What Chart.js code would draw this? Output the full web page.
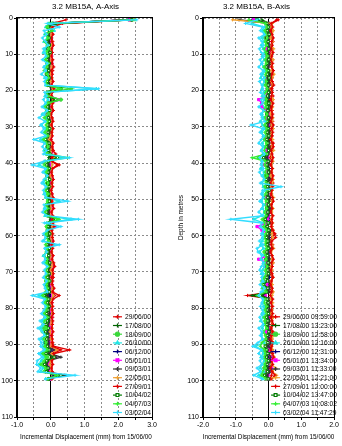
<!DOCTYPE html>
<html>
<head>
<meta charset="utf-8">
<script src="https://cdn.jsdelivr.net/npm/chart.js@4.4.0/dist/chart.umd.min.js"></script>
<style>
  body { margin: 0; background: #fff; }
  .panel { position: absolute; top: 0; width: 171px; height: 446px; }
</style>
</head>
<body>
<div class="panel" style="left:0"><canvas id="chartA" width="171" height="446"></canvas></div>
<div class="panel" style="left:171px"><canvas id="chartB" width="171" height="446"></canvas></div>
<script>
// depth of each reading (m)
const depths = [
  0.5, 1.5, 2.5, 3.5, 4.5, 5.5, 6.5, 7.5, 8.5, 9.5,
  10.5, 11.5, 12.5, 13.5, 14.5, 15.5, 16.5, 17.5, 18.5, 19.5,
  20.5, 21.5, 22.5, 23.5, 24.5, 25.5, 26.5, 27.5, 28.5, 29.5,
  30.5, 31.5, 32.5, 33.5, 34.5, 35.5, 36.5, 37.5, 38.5, 39.5,
  40.5, 41.5, 42.5, 43.5, 44.5, 45.5, 46.5, 47.5, 48.5, 49.5,
  50.5, 51.5, 52.5, 53.5, 54.5, 55.5, 56.5, 57.5, 58.5, 59.5,
  60.5, 61.5, 62.5, 63.5, 64.5, 65.5, 66.5, 67.5, 68.5, 69.5,
  70.5, 71.5, 72.5, 73.5, 74.5, 75.5, 76.5, 77.5, 78.5, 79.5,
  80.5, 81.5, 82.5, 83.5, 84.5, 85.5, 86.5, 87.5, 88.5, 89.5,
  90.5, 91.5, 92.5, 93.5, 94.5, 95.5, 96.5, 97.5, 98.5, 99.5
];

const readDates = ['29/06/00', '17/08/00', '18/09/00', '26/10/00', '06/12/00', '05/01/01',
  '09/03/01', '22/05/01', '27/09/01', '10/04/02', '04/07/03', '03/02/04'];
const readTimes = ['09:59:00', '13:23:00', '12:58:00', '12:16:00', '12:31:00', '13:34:00',
  '11:33:00', '12:21:00', '12:00:00', '13:47:00', '10:08:02', '11:47:29'];

const seriesColors = ['#e00000', '#006400', '#3ad83a', '#22e6e6', '#000080', '#ff00ff',
  '#333333', '#f0a030', '#e00000', '#007a00', '#33ee33', '#33ddff'];
const seriesMarkers = ['cross', 'cross', 'circle', 'triangle', 'cross', 'rect',
  'cross', 'cross', 'cross', 'rect', 'cross', 'cross'];

// A-Axis incremental displacement (mm)
const a2906 = [.45,.05,.02,.04,.01,.03,.06,.02,.0,.04, .03,.05,.01,.02,.06,.03,.0,.04,.02,.08,
  .03,.01,.12,.04,.02,.05,.0,.03,.06,.02, .04,.01,.03,.0,.05,.02,.08,.03,.04,.02,
  .2,.05,.02,.04,.0,.03,.05,.01,.04,.02, .03,.06,.02,.0,.04,.05,.02,.08,.03,.01,
  .04,.02,.05,.03,.0,.06,.02,.04,.1,.05, .03,.08,.02,.05,.04,.06,.12,.03,.05,.02,
  .04,.01,.06,.03,.05,.02,.0,.04,.03,.06, .08,.55,.1,.04,.02,.05,.01,.03,.06,.02];
const a1708 = [2.35,.1,-.05,-.02,-.08,-.04,-.1,-.03,-.06,-.01, -.05,-.09,-.02,-.06,-.04,-.1,-.03,-.07,-.05,.02,
  -.04,-.08,.05,-.03,-.06,-.02,-.09,-.05,-.03,-.07, -.02,-.06,-.1,-.04,-.03,-.08,-.05,.0,-.06,-.04,
  -.08,-.03,-.05,-.09,-.02,-.06,-.04,-.07,-.03,-.05, -.06,-.02,-.08,-.04,-.05,-.01,-.07,-.03,-.06,-.04,
  -.03,-.07,-.05,-.02,-.08,-.04,-.06,-.03,-.05,-.09, -.04,-.06,-.02,-.07,-.05,-.03,-.08,-.04,-.06,-.02,
  -.05,-.09,-.03,-.06,-.1,-.04,-.08,-.12,-.05,-.07, -.09,-.04,-.06,.05,-.08,-.11,-.05,-.07,.2,-.04];
const a1809 = [2.4,.05,-.1,-.04,-.12,-.06,-.02,-.09,-.13,-.05, -.08,-.03,-.11,-.07,-.14,-.05,-.09,-.02,-.1,.6,
  -.06,-.12,.3,-.08,-.04,-.11,-.07,-.15,-.05,-.1, -.13,-.06,-.09,-.2,-.04,-.1,-.07,-.12,.15,-.08,
  -.1,-.05,-.13,-.08,-.03,-.11,-.06,-.14,-.09,-.04, -.07,-.12,-.05,-.1,-.08,.2,-.03,-.11,-.06,-.13,
  -.09,-.04,-.12,-.07,-.1,-.05,-.13,-.08,-.02,-.11, -.06,-.1,-.14,-.05,-.09,-.03,-.15,-.08,-.12,-.06,
  -.11,-.07,-.16,-.09,-.13,-.2,-.1,-.15,-.08,-.18, -.12,-.06,-.2,-.1,-.14,-.22,-.09,-.16,.1,-.07];
const a2610 = [2.45,-.05,-.15,.1,-.18,-.1,-.2,-.08,-.14,-.22, -.12,-.16,-.09,-.2,-.13,-.06,-.18,-.11,-.15,1.35,
  -.1,-.17,-.08,-.14,-.21,-.12,-.25,-.1,-.16,-.28, -.13,-.19,-.09,-.3,-.15,-.11,-.2,-.14,.3,-.17,
  -.35,-.12,-.18,-.1,-.16,-.22,-.13,-.09,-.2,-.15, .25,-.14,-.19,-.11,-.17,.6,-.12,.15,-.08,-.18,
  -.13,-.2,.1,-.15,-.1,-.22,-.14,-.18,-.09,-.16, -.12,-.2,-.1,-.17,-.14,-.08,-.35,-.15,-.2,-.11,
  -.16,-.22,-.13,-.25,-.18,-.3,-.2,-.14,-.27,-.19, -.24,-.15,-.3,-.18,-.28,-.35,-.22,-.3,.45,-.15];
const a0612 = [2.3,.08,-.02,.01,-.04,.0,-.03,.02,-.05,-.01, .01,-.04,-.02,.02,-.05,-.01,-.03,.0,-.06,.03,
  -.02,.01,.2,-.03,.0,-.04,-.01,.02,-.05,-.02, .0,-.03,.01,-.06,-.02,.02,-.04,-.01,.05,-.03,
  -.05,.0,-.02,-.04,.01,-.03,-.06,.0,-.02,-.04, .01,-.03,-.05,.0,-.02,.04,-.04,.02,-.01,-.03,
  -.04,.0,-.02,-.05,.01,-.03,-.01,-.04,.02,-.02, -.01,-.03,.02,-.04,-.02,.0,-.05,-.01,.01,-.03,
  -.04,-.02,-.06,-.01,-.05,-.03,-.08,-.02,-.06,-.04, -.05,.05,-.03,.15,-.06,-.09,-.04,-.07,.1,-.02];
const a0501 = [2.35,.15,.02,-.01,.03,-.02,.01,.04,-.03,.0, .02,-.02,.03,.0,-.03,.02,-.01,.03,.0,.05,
  .01,-.02,.25,.02,-.01,.03,-.03,.0,.02,-.02, .03,.0,-.02,-.04,.01,.03,-.01,.02,.06,-.02,
  -.03,.02,.0,-.02,.03,-.01,.01,-.03,.02,.0, .02,-.01,.03,-.02,.0,.05,-.03,.12,.01,-.02,
  .0,.03,-.02,.01,-.03,.02,.0,-.01,.03,.01, -.02,.02,.0,.03,-.01,.01,.06,-.02,.02,.0,
  .01,-.03,.02,-.01,.0,-.04,.02,-.02,-.05,.01, -.03,.1,-.01,.08,-.04,-.06,.0,-.03,.15,.01];
const a0903 = [2.4,.3,-.04,.0,-.06,-.02,-.05,-.01,-.07,-.03, -.02,-.06,.0,-.04,-.07,-.02,-.05,-.03,-.08,.04,
  -.03,-.06,.1,-.02,-.05,-.01,-.07,-.04,-.02,-.06, -.04,-.01,-.05,-.08,-.03,.0,-.06,-.02,.08,-.05,
  -.06,-.02,-.04,-.07,-.01,-.05,-.03,-.06,-.02,-.04, -.01,-.05,-.03,-.06,-.02,.1,-.04,.03,-.05,-.02,
  -.05,-.02,-.06,-.03,-.04,-.01,-.07,-.03,.0,-.05, -.02,-.05,-.01,-.06,-.03,-.04,-.1,-.02,-.05,-.03,
  -.06,-.03,-.08,-.04,-.07,-.1,-.05,-.09,-.04,-.08, -.06,.1,-.03,.3,-.08,-.12,-.05,-.09,.4,-.04];
const a2205 = [2.45,.2,.03,.0,.02,-.02,.04,.01,-.01,.03, .0,.02,-.02,.03,.01,-.01,.04,.0,.02,.06,
  .02,-.01,.08,.01,.03,.0,-.02,.02,.04,.0, .01,.03,-.01,-.05,.02,.04,.0,.01,.1,.02,
  .05,.0,.03,-.01,.02,.04,.0,.02,-.01,.03, .04,.01,.0,.03,-.02,.08,.02,.05,.0,.03,
  .02,.0,.04,.01,.03,-.01,.02,.05,.03,.0, .04,.02,.0,.03,.05,.01,.08,.02,.0,.04,
  .02,.05,.0,.03,.01,.04,-.02,.02,.0,.03, .01,.2,.03,.1,.0,-.03,.02,.0,.2,.03];
const a2709 = [2.35,.35,.05,.02,.07,.01,.04,.08,.03,.05, .02,.06,.04,.09,.01,.05,.03,.07,.02,.1,
  .05,.02,.1,.06,.03,.08,.01,.04,.06,.02, .07,.03,.05,.01,.08,.04,.06,.15,.03,.05,
  .25,.06,.02,.05,.08,.03,.06,.01,.04,.07, .03,.05,.09,.02,.06,.04,.07,.1,.03,.06,
  .05,.08,.03,.06,.02,.07,.04,.09,.12,.05, .08,.03,.06,.04,.1,.05,.25,.07,.03,.06,
  .04,.08,.02,.06,.05,.03,.07,.02,.05,.04, .06,.3,.08,.12,.03,.06,.02,.05,.15,.04];
const a1004 = [2.4,.15,-.08,-.03,-.1,-.05,-.12,-.04,-.08,-.02, -.07,-.11,-.04,-.09,-.06,-.13,-.05,-.1,-.07,.3,
  -.05,-.1,.15,-.06,-.09,-.03,-.11,-.07,-.04,-.09, -.03,-.08,-.12,-.15,-.05,-.1,-.06,-.02,.2,-.07,
  -.12,-.04,-.08,-.11,-.03,-.09,-.05,-.1,-.06,-.08, -.04,-.09,-.06,-.12,-.07,.15,-.05,-.08,-.1,-.03,
  -.08,-.05,-.11,-.04,-.09,-.06,-.12,-.03,-.07,-.1, -.05,-.09,-.03,-.11,-.07,-.04,-.2,-.06,-.1,-.05,
  -.08,-.12,-.06,-.1,-.14,-.07,-.15,-.09,-.12,-.16, -.1,-.05,-.14,.1,-.12,-.18,-.08,-.13,.3,-.06];
const a0407 = [2.5,-.05,-.12,.05,-.15,-.08,-.18,-.1,-.05,-.14, -.09,-.16,-.07,-.12,-.2,-.1,-.06,-.15,-.11,.3,
  -.13,-.08,.3,-.1,-.17,-.12,-.05,-.2,-.09,-.14, -.1,-.18,-.08,-.22,-.13,-.07,-.15,-.11,.5,-.16,
  -.2,-.09,-.14,-.1,-.18,-.07,-.12,-.16,-.08,-.13, -.1,-.15,-.09,-.18,-.12,.25,-.08,-.14,-.11,-.17,
  -.13,-.07,-.16,-.1,-.14,-.2,-.09,-.13,-.06,-.15, -.11,-.17,-.08,-.13,-.1,-.16,-.25,-.12,-.18,-.09,
  -.14,-.2,-.1,-.18,-.23,-.12,-.26,-.16,-.21,-.13, -.18,-.1,-.24,-.14,-.2,-.3,-.15,-.22,.2,-.1];
const a0302 = [2.55,-.1,.25,-.2,-.12,-.25,-.15,-.08,-.22,-.18, -.14,-.25,-.1,-.2,-.16,-.28,-.12,-.19,-.15,1.42,
  -.18,-.12,-.22,-.15,-.26,-.1,-.2,-.35,-.16,-.3, -.2,-.28,-.15,-.5,-.18,-.25,-.12,-.22,.55,-.2,
  -.55,-.15,-.24,-.1,-.2,-.27,-.14,-.22,-.18,-.12, .5,-.2,-.15,-.25,-.12,.82,-.18,.3,-.1,-.22,
  -.15,-.25,.25,-.18,-.12,-.2,-.16,-.24,-.1,-.19, -.14,-.22,-.12,-.2,-.17,-.1,-.55,-.18,-.25,-.15,
  -.2,-.28,-.16,-.32,-.22,-.38,-.25,-.18,-.35,-.28, -.3,-.2,-.36,-.25,-.4,-.42,-.3,-.38,.72,-.15];

// B-Axis incremental displacement (mm)
const b2906 = [.3,.1,.06,.12,.05,.09,.14,.07,.11,.04, .08,.13,.06,.1,.15,.07,.12,.05,.09,.11,
  .06,.14,.08,.1,.05,.12,.09,.07,.13,.06, .1,.04,.12,.08,.15,.06,.1,.09,.05,.11,
  .07,.12,.05,.1,.08,.14,.06,.11,.09,.04, .12,.07,.1,.05,.13,.08,.06,.11,.09,.2,
  .1,.06,.13,.08,.05,.11,.09,.14,.07,.1, .05,.12,.08,.1,.06,.09,-.64,.11,.07,.13,
  .09,.05,.12,.08,.1,.06,.14,.07,.11,.09, .06,.1,.13,.08,.05,.11,.07,.12,.09,.06];
const b1708 = [-.2,.02,-.03,.04,-.01,.03,-.04,.01,.05,-.02, .02,-.03,.04,.0,-.02,.05,-.01,.03,-.04,.01,
  .03,-.02,.05,.0,.04,-.03,.02,-.01,.06,.0, -.02,.04,.0,.03,-.04,.02,.05,-.01,-.1,.03,
  .0,-.03,.04,.01,.05,-.02,.03,.0,-.03,.04, .02,-.01,.05,.0,.03,-.04,.01,-.02,.04,.06,
  .01,.04,-.02,.03,-.05,.02,.0,.04,-.01,.03, -.02,.03,-.06,.01,-.03,.02,-.5,.04,-.01,.02,
  .03,-.02,.05,.0,-.03,.04,.01,-.02,.03,.0, -.01,-.15,.02,-.03,.04,.0,-.02,.03,-.05,.01];
const b1809 = [-.4,-.08,-.02,-.07,-.04,-.1,-.03,-.06,-.01,-.08, -.05,-.09,-.02,-.06,-.1,-.03,-.07,-.04,-.08,-.02,
  -.06,-.03,-.09,-.05,-.02,-.08,-.04,-.1,-.06,-.03, -.07,-.02,-.06,-.09,-.04,-.08,-.03,-.06,-.3,-.05,
  -.08,-.03,-.07,-.1,-.05,-.02,-.08,-.04,-.06,-.09, -.03,-.07,-.05,-.1,-.04,-.15,-.06,-.08,-.02,-.05,
  -.09,-.04,-.07,-.03,-.12,-.06,-.08,-.04,-.1,-.05, -.06,-.1,-.15,-.04,-.08,-.05,-.2,-.07,-.03,-.09,
  -.05,-.08,-.03,-.1,-.06,-.04,-.12,-.07,-.05,-.15, -.08,-.2,-.06,-.1,-.04,-.09,-.13,-.07,-.18,-.05];
const b2610 = [-.3,-.5,-.12,-.18,-.1,-.2,-.14,-.22,-.16,-.11, -.19,-.13,-.21,-.15,-.1,-.18,-.24,-.12,-.17,-.2,
  -.14,-.19,-.11,-.22,-.16,-.13,-.2,-.15,-.25,-.18, -.12,-.21,-.16,-.1,-.19,-.14,-.22,-.17,-.12,-.2,
  -.15,-.24,-.13,-.18,-.11,-.2,-.16,-.1,-.19,-.14, -.21,-.15,-.18,-.12,-.2,-.45,-.16,-.22,-.13,-.17,
  -.11,-.19,-.24,-.15,-.28,-.13,-.2,-.16,-.12,-.18, -.22,-.14,-.17,-.12,-.2,-.16,-.25,-.11,-.19,-.15,
  -.13,-.2,-.16,-.24,-.12,-.19,-.15,-.22,-.18,-.14, -.4,-.2,-.16,-.23,-.13,-.19,-.25,-.15,-.3,-.17];
const b0612 = [-.5,.01,-.03,.02,-.02,.04,-.01,.03,-.04,.0, .02,-.02,.03,-.04,.01,.0,.04,-.03,.02,-.01,
  .0,.03,-.02,.05,-.03,.01,-.01,.02,-.05,.03, .01,-.03,.02,.0,.04,-.02,.01,-.04,-.08,.02,
  -.01,.03,-.02,.04,.0,-.03,.02,.01,-.02,.03, .0,-.04,.02,.01,-.03,.03,-.01,-.05,.02,.0,
  .03,-.02,.01,-.04,.02,.0,.04,-.01,.02,-.03, .01,.03,-.02,.0,.04,-.03,-.15,.02,-.01,.03,
  .0,-.02,.04,.01,-.03,.02,.06,-.01,.03,.08, -.02,.1,.03,-.04,.06,-.02,.01,.05,-.03,.0];
const b0501 = [-.45,.0,-.04,.01,-.03,-.06,.0,-.02,-.05,.01, -.03,.0,-.05,-.02,.01,-.04,-.01,-.06,.0,-.03,
  -.02,-.05,-.3,-.2,-.22,-.04,.0,-.03,-.05,-.01, -.04,.0,-.02,-.06,-.01,-.03,-.05,.01,-.04,-.02,
  -.12,-.03,-.05,-.01,-.04,.0,-.06,-.02,-.03,-.05, -.01,-.04,-.02,-.05,.0,-.03,-.06,-.35,-.2,-.02,
  -.04,-.01,-.05,-.02,-.06,.0,-.3,-.03,-.05,-.01, -.03,-.05,-.01,-.04,-.02,-.06,-.1,-.03,.0,-.04,
  -.02,-.05,-.01,-.04,-.03,.0,-.06,-.02,-.04,.02, -.05,.05,-.03,.08,-.06,-.02,.1,-.04,-.01,-.03];
const b0903 = [-.9,.03,-.01,.02,-.03,.04,.0,-.02,.03,-.01, .01,-.02,.04,-.01,.02,.0,-.03,.03,.01,-.02,
  .04,.0,-.02,.03,-.01,.02,-.04,.01,.03,-.02, .0,.03,-.03,.02,.01,-.02,.04,.0,-.05,.02,
  -.02,.01,.03,-.01,.02,-.03,.0,.04,-.02,.01, .03,-.01,.0,.04,-.02,-.1,.02,-.03,.01,.05,
  .0,.03,-.02,.02,-.04,.01,.03,-.01,.04,.0, .02,-.03,.01,.04,-.01,.0,-.2,.03,-.02,.01,
  .04,.0,-.02,.03,.01,-.03,.05,.0,.02,.08, -.03,.12,.02,.06,.0,.1,-.02,.04,-.04,.02];
const b2205 = [-1.1,.12,.08,.15,.1,.06,.13,.09,.16,.11, .07,.14,.1,.12,.08,.17,.11,.09,.13,.06,
  .12,.09,.15,.08,.13,.1,.06,.14,.11,.09, .15,.1,.07,.13,.09,.12,.16,.08,.11,.14,
  .09,.13,.1,.07,.15,.11,.08,.12,.1,.16, .11,.08,.14,.1,.12,.07,.13,.09,.15,.1,
  .13,.09,.11,.16,.08,.12,.1,.14,.07,.11, .1,.14,.08,.12,.09,.15,.11,.07,.13,.1,
  .12,.08,.15,.1,.13,.09,.11,.16,.1,.14, .09,.13,.1,.18,.12,.08,.22,.11,.25,.1];
const b2709 = [.25,.08,.13,.06,.11,.15,.09,.12,.07,.14, .1,.06,.13,.09,.15,.11,.07,.12,.16,.08,
  .12,.09,.06,.14,.1,.08,.13,.11,.07,.15, .09,.13,.1,.06,.12,.15,.08,.11,.14,.1,
  .07,.12,.09,.14,.11,.06,.13,.1,.08,.12, .15,.09,.11,.07,.13,.1,.12,.08,.14,.18,
  .22,.1,.08,.13,.06,.11,.15,.09,.12,.07, .11,.14,.09,.06,.12,.1,.05,.13,.08,.11,
  .09,.13,.07,.11,.15,.08,.12,.1,.06,.14, .1,.07,.12,.16,.09,.13,.06,.11,.2,.08];
const b1004 = [-.35,-.05,.0,-.04,.02,-.06,-.01,-.03,.01,-.05, -.02,.01,-.04,-.07,.0,-.03,.02,-.05,-.01,-.04,
  .0,-.03,-.06,.01,-.04,-.02,-.05,.0,-.03,-.07, -.01,-.04,.01,-.05,-.02,-.06,.0,-.03,-.15,-.01,
  -.05,-.02,.0,-.04,-.07,-.01,-.03,.02,-.05,-.02, -.03,.0,-.05,-.02,-.06,-.1,-.01,-.04,.01,-.03,
  -.06,-.02,-.04,.0,-.05,-.03,-.07,-.01,-.04,-.02, .0,-.05,-.03,-.15,-.02,-.06,-.25,-.04,-.01,-.03,
  -.04,.0,-.06,-.02,-.05,-.03,.01,-.04,-.07,-.02, -.1,-.05,-.02,-.06,.0,-.04,-.08,-.03,-.12,-.01];
const b0407 = [-.6,-.1,-.05,-.12,-.07,-.03,-.11,-.06,-.13,-.08, -.04,-.1,-.07,-.14,-.05,-.09,-.12,-.06,-.1,-.03,
  -.09,-.13,-.06,-.11,-.08,-.15,-.04,-.1,-.07,-.12, -.05,-.11,-.08,-.14,-.06,-.1,-.13,-.07,-.5,-.09,
  -.12,-.06,-.1,-.04,-.13,-.08,-.11,-.05,-.09,-.14, -.07,-.1,-.05,-.12,-.08,-.2,-.11,-.15,-.06,-.09,
  -.13,-.08,-.1,-.05,-.14,-.09,-.07,-.12,-.04,-.1, -.08,-.12,-.22,-.2,-.18,-.07,-.35,-.1,-.13,-.06,
  -.11,-.07,-.14,-.09,-.12,-.05,-.16,-.1,-.08,-.2, -.25,-.12,-.09,-.15,-.07,-.13,-.1,-.18,-.22,-.08];
const b0302 = [-.35,-.7,-.18,-.25,-.12,-.3,-.2,-.15,-.28,-.22, -.14,-.26,-.19,-.3,-.16,-.24,-.12,-.28,-.2,-.17,
  -.25,-.13,-.22,-.18,-.3,-.15,-.24,-.2,-.11,-.53, -.18,-.26,-.14,-.22,-.3,-.17,-.21,-.12,-.27,-.19,
  -.23,-.15,-.28,-.2,-.13,-.25,.38,-.18,-.22,-.16, -.27,-.14,-.21,-.3,-.17,-1.15,-.2,-.25,-.15,-.22,
  -.18,-.28,-.16,-.35,-.32,-.2,-.24,-.14,-.22,-.27, -.15,-.21,-.18,-.26,-.12,-.23,-.3,-.17,-.2,-.25,
  -.19,-.14,-.27,-.22,-.16,-.3,-.2,-.25,-.18,-.32, -.48,-.22,-.3,-.18,-.26,-.2,-.35,-.24,-.45,-.2];

const seriesA = [a2906, a1708, a1809, a2610, a0612, a0501, a0903, a2205, a2709, a1004, a0407, a0302];
const seriesB = [b2906, b1708, b1809, b2610, b0612, b0501, b0903, b2205, b2709, b1004, b0407, b0302];

const FONT = '"Liberation Sans", Arial, sans-serif';

// titles, frame and the in-plot legend
const panelDecor = {
  id: 'panelDecor',
  afterDraw(chart, args, o) {
    const { ctx, chartArea: a } = chart;
    ctx.save();
    ctx.strokeStyle = '#000';
    ctx.lineWidth = 1;
    ctx.strokeRect(Math.round(a.left) - 0.5, Math.round(a.top) - 0.5,
      Math.round(a.right - a.left) + 1, Math.round(a.bottom - a.top) + 1);

    ctx.fillStyle = '#000';
    ctx.textAlign = 'center';
    ctx.textBaseline = 'middle';
    ctx.font = '8px ' + FONT;
    ctx.fillText(o.title, chart.width / 2, 7);
    ctx.font = '6.4px ' + FONT;
    ctx.fillText(o.xTitle, (a.left + a.right) / 2 + o.xTitleShift, 437);
    if (o.yTitle) {
      ctx.save();
      ctx.translate(10, (a.top + a.bottom) / 2);
      ctx.rotate(-Math.PI / 2);
      ctx.fillText(o.yTitle, 0, 0);
      ctx.restore();
    }

    // legend
    ctx.font = '6.7px ' + FONT;
    ctx.textAlign = 'left';
    const labels = o.labels;
    const maxW = Math.max(...labels.map(t => ctx.measureText(t).width));
    const textX = a.right + o.legendShift - maxW;
    const step = 8.7;
    labels.forEach((t, i) => {
      const y = a.bottom - 4.5 - (labels.length - 1 - i) * step;
      const c = seriesColors[i];
      ctx.strokeStyle = c;
      ctx.lineWidth = 1.2;
      ctx.beginPath();
      ctx.moveTo(textX - 12, y);
      ctx.lineTo(textX - 3, y);
      ctx.stroke();
      ctx.fillStyle = i === 9 ? '#fff' : c;
      Chart.helpers.drawPoint(ctx, { pointStyle: seriesMarkers[i], radius: 2, borderWidth: 1, rotation: 0 },
        textX - 7.5, y);
      ctx.fillStyle = '#000';
      ctx.fillText(t, textX, y + 0.5);
    });
    ctx.restore();
  }
};

function buildPanel(id, series, cfg) {
  const datasets = series.map((vals, i) => ({
    label: cfg.labels[i],
    data: vals.map((v, k) => ({ x: v, y: depths[k] })),
    borderColor: seriesColors[i],
    backgroundColor: i === 9 ? '#fff' : seriesColors[i],
    pointBorderColor: seriesColors[i],
    borderWidth: 1.4,
    pointStyle: seriesMarkers[i],
    pointRadius: 1.6,
    pointBorderWidth: 1,
    tension: 0,
    fill: false,
    order: 20 - i
  }));

  const tickFont = { family: FONT, size: 7 };
  return new Chart(document.getElementById(id), {
    type: 'line',
    data: { datasets },
    options: {
      indexAxis: 'y',
      responsive: false,
      animation: false,
      devicePixelRatio: 1,
      layout: { padding: cfg.padding },
      plugins: {
        legend: { display: false },
        tooltip: { enabled: false },
        panelDecor: cfg.decor
      },
      scales: {
        x: {
          type: 'linear',
          min: cfg.xMin,
          max: cfg.xMax,
          ticks: {
            stepSize: 0.5,
            autoSkip: false,
            maxRotation: 0,
            padding: 1,
            color: '#000',
            font: tickFont,
            callback: v => Math.abs(v - Math.round(v)) < 1e-9 ? v.toFixed(1) : ''
          },
          grid: {
            color: c => (c.tick && c.tick.value === 0) ? '#000' : '#8c8c8c',
            tickColor: '#000',
            tickLength: 3
          },
          border: {
            color: '#000',
            dash: c => (c.tick && c.tick.value === 0) ? [] : [2, 2]
          },
          afterFit: s => { s.height = 29; }
        },
        y: {
          type: 'linear',
          reverse: true,
          min: 0,
          max: 110,
          ticks: {
            stepSize: 10,
            autoSkip: false,
            padding: 1,
            color: '#000',
            font: tickFont
          },
          grid: { color: '#8c8c8c', tickColor: '#000', tickLength: 3 },
          border: { color: '#000', dash: [2, 2] },
          afterFit: s => { s.width = cfg.yWidth; }
        }
      }
    },
    plugins: [panelDecor]
  });
}

buildPanel('chartA', seriesA, {
  labels: readDates,
  xMin: -1, xMax: 3,
  yWidth: 17,
  padding: { left: 0, right: 19, top: 18, bottom: 0 },
  decor: {
    title: '3.2 MB15A, A-Axis',
    xTitle: 'Incremental Displacement (mm) from 15/06/00',
    xTitleShift: 1.5,
    labels: readDates,
    legendShift: -1
  }
});

buildPanel('chartB', seriesB, {
  labels: readDates.map((d, i) => d + ' ' + readTimes[i]),
  xMin: -2, xMax: 2,
  yWidth: 32,
  padding: { left: 0, right: 8, top: 18, bottom: 0 },
  decor: {
    title: '3.2 MB15A, B-Axis',
    xTitle: 'Incremental Displacement (mm) from 15/06/00',
    xTitleShift: 0,
    yTitle: 'Depth in metres',
    labels: readDates.map((d, i) => d + ' ' + readTimes[i]),
    legendShift: 3
  }
});
</script>
</body>
</html>
